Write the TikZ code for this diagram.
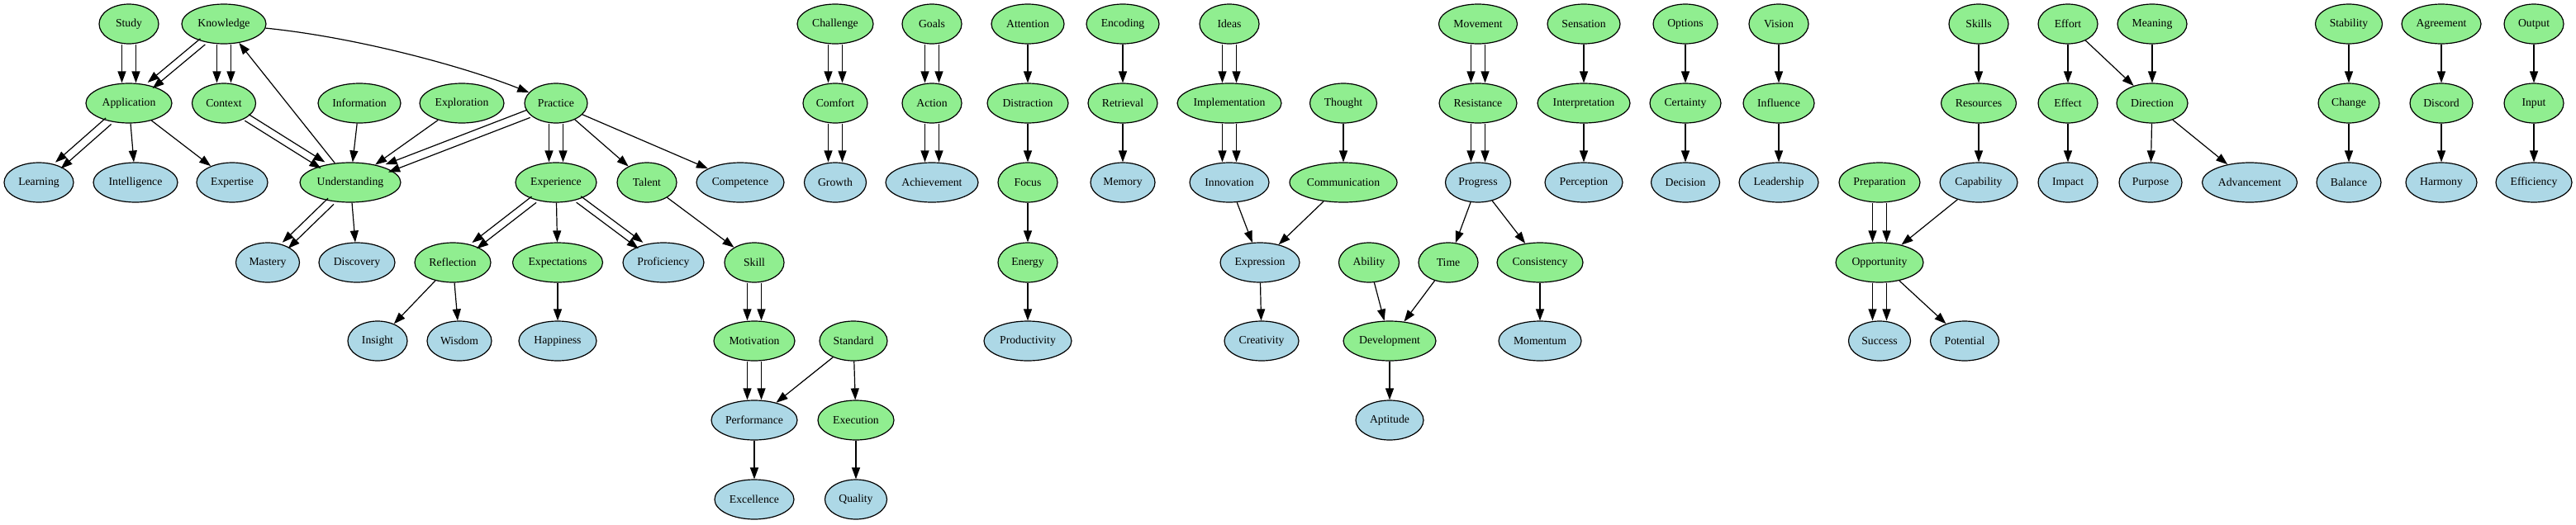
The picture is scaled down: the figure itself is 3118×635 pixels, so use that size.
\documentclass[tikz,border=0pt]{standalone}
\usepackage{fontspec}
\setmainfont{Liberation Serif}
\usetikzlibrary{shapes.geometric,arrows.meta,calc}
\definecolor{lgreen}{HTML}{90EE90}
\definecolor{lblue}{HTML}{ADD8E6}
\tikzset{
  nd/.style={ellipse, draw=black, line width=1.2pt, minimum height=48pt, inner sep=0pt,
    font=\fontsize{13.7pt}{16pt}\selectfont},
  gn/.style={nd, fill=lgreen},
  bn/.style={nd, fill=lblue},
  arr/.style={line width=1.2pt, -{Triangle[length=14pt,width=10pt]}}
}
\newcommand\twin[3][8.5pt]{%
  \draw[arr, transform canvas={shift={($(#2)!#1!90:(#3)-(#2)$)}}] (#2) -- (#3);
  \draw[arr, transform canvas={shift={($(#2)!#1!-90:(#3)-(#2)$)}}] (#2) -- (#3);
}
\newcommand\G[4]{\node[gn, minimum width=#4pt] (#1) at (#2,#3) {#1};}
\newcommand\B[4]{\node[bn, minimum width=#4pt] (#1) at (#2,#3) {#1};}
\begin{document}
\begin{tikzpicture}[x=1pt,y=-1pt]
\useasboundingbox[fill=white] (0,0) rectangle (3118,635);
% group 1
\G{Study}{156}{29}{72}
\G{Knowledge}{271}{29}{102}
\G{Application}{156}{125}{104}
\G{Context}{271}{125}{77}
\G{Information}{435}{125}{100}
\G{Exploration}{559}{125}{102}
\G{Practice}{673}{125}{76}
\B{Learning}{47}{221}{84}
\B{Intelligence}{164}{221}{102}
\B{Expertise}{281}{221}{86}
\G{Understanding}{424}{221}{122}
\G{Experience}{673}{221}{98}
\G{Talent}{783}{221}{72}
\B{Competence}{896}{221}{106}
\B{Mastery}{324}{318}{77}
\B{Discovery}{432}{318}{92}
\G{Reflection}{548}{318}{92}
\G{Expectations}{675}{318}{109}
\B{Proficiency}{803}{318}{98}
\G{Skill}{913}{318}{72}
\B{Insight}{457}{413}{72}
\B{Wisdom}{556}{413}{78}
\B{Happiness}{675}{413}{94}
\G{Motivation}{913}{413}{98}
\G{Standard}{1033}{413}{82}
\B{Performance}{913}{509}{104}
\G{Execution}{1036}{509}{92}
\B{Excellence}{913}{605}{96}
\B{Quality}{1036}{605}{75}
% group 2
\G{Challenge}{1011}{29}{92}
\G{Comfort}{1011}{125}{78}
\B{Growth}{1011}{221}{75}
\G{Goals}{1128}{29}{72}
\G{Action}{1128}{125}{72}
\B{Achievement}{1128}{221}{112}
\G{Attention}{1244}{29}{88}
\G{Distraction}{1244}{125}{98}
\G{Focus}{1244}{221}{72}
\G{Energy}{1244}{318}{72}
\B{Productivity}{1244}{413}{106}
\G{Encoding}{1359}{29}{88}
\G{Retrieval}{1359}{125}{84}
\B{Memory}{1359}{221}{78}
\G{Ideas}{1488}{29}{72}
\G{Implementation}{1488}{125}{126}
\B{Innovation}{1488}{221}{96}
\G{Thought}{1626}{125}{81}
\G{Communication}{1626}{221}{130}
\B{Expression}{1525}{318}{96}
\B{Creativity}{1527}{413}{90}
\G{Ability}{1657}{318}{73}
\G{Time}{1753}{318}{72}
\G{Development}{1682}{413}{112}
\B{Aptitude}{1682}{509}{82}
\G{Movement}{1789}{29}{95}
\G{Resistance}{1789}{125}{94}
\B{Progress}{1789}{221}{79}
\G{Consistency}{1864}{318}{104}
\B{Momentum}{1864}{413}{100}
\G{Sensation}{1917}{29}{88}
\G{Interpretation}{1917}{125}{112}
\B{Perception}{1917}{221}{94}
\G{Options}{2040}{29}{78}
\G{Certainty}{2040}{125}{86}
\B{Decision}{2040}{221}{83}
\G{Vision}{2153}{29}{72}
\G{Influence}{2153}{125}{86}
\B{Leadership}{2153}{221}{96}
\G{Preparation}{2275}{221}{98}
\G{Opportunity}{2275}{318}{106}
\B{Success}{2275}{413}{75}
\B{Potential}{2378}{413}{83}
\G{Skills}{2395}{29}{72}
\G{Resources}{2395}{125}{91}
\B{Capability}{2395}{221}{94}
\G{Effort}{2503}{29}{72}
\G{Effect}{2503}{125}{72}
\B{Impact}{2503}{221}{72}
\G{Meaning}{2605}{29}{84}
\G{Direction}{2605}{125}{86}
\B{Purpose}{2603}{221}{76}
\B{Advancement}{2723}{221}{115}
\G{Stability}{2843}{29}{81}
\G{Change}{2843}{125}{74}
\B{Balance}{2843}{221}{78}
\G{Agreement}{2955}{29}{96}
\G{Discord}{2955}{125}{76}
\B{Harmony}{2955}{221}{86}
\G{Output}{3067}{29}{72}
\G{Input}{3067}{125}{72}
\B{Efficiency}{3067}{221}{92}
% edges group 1
\twin{Study}{Application}
\twin[4.6pt]{Knowledge}{Application}
\twin{Knowledge}{Context}
\draw[arr] (Knowledge) .. controls (430,45) and (560,80) .. (Practice);
\draw[arr] (Understanding) -- (Knowledge);
\twin[5pt]{Application}{Learning}
\draw[arr] (Application) -- (Intelligence);
\draw[arr] (Application) -- (Expertise);
\twin[4.5pt]{Context}{Understanding}
\draw[arr] (Information) -- (Understanding);
\draw[arr] (Exploration) -- (Understanding);
\twin[5pt]{Practice}{Understanding}
\twin{Practice}{Experience}
\draw[arr] (Practice) -- (Talent);
\draw[arr] (Practice) -- (Competence);
\twin[5pt]{Understanding}{Mastery}
\draw[arr] (Understanding) -- (Discovery);
\twin[4.6pt]{Experience}{Reflection}
\draw[arr] (Experience) -- (Expectations);
\twin[4.6pt]{Experience}{Proficiency}
\draw[arr] (Talent) -- (Skill);
\draw[arr] (Reflection) -- (Insight);
\draw[arr] (Reflection) -- (Wisdom);
\draw[arr] (Expectations) -- (Happiness);
\twin{Skill}{Motivation}
\twin{Motivation}{Performance}
\draw[arr] (Standard) -- (Performance);
\draw[arr] (Standard) -- (Execution);
\draw[arr] (Performance) -- (Excellence);
\draw[arr] (Execution) -- (Quality);
% group 2
\twin{Challenge}{Comfort}
\twin{Comfort}{Growth}
\twin{Goals}{Action}
\twin{Action}{Achievement}
\draw[arr] (Attention) -- (Distraction);
\draw[arr] (Distraction) -- (Focus);
\draw[arr] (Focus) -- (Energy);
\draw[arr] (Energy) -- (Productivity);
\draw[arr] (Encoding) -- (Retrieval);
\draw[arr] (Retrieval) -- (Memory);
\twin{Ideas}{Implementation}
\twin{Implementation}{Innovation}
\draw[arr] (Thought) -- (Communication);
\draw[arr] (Innovation) -- (Expression);
\draw[arr] (Communication) -- (Expression);
\draw[arr] (Expression) -- (Creativity);
\draw[arr] (Ability) -- (Development);
\draw[arr] (Time) -- (Development);
\draw[arr] (Development) -- (Aptitude);
\twin{Movement}{Resistance}
\twin{Resistance}{Progress}
\draw[arr] (Progress) -- (Time);
\draw[arr] (Progress) -- (Consistency);
\draw[arr] (Consistency) -- (Momentum);
\draw[arr] (Sensation) -- (Interpretation);
\draw[arr] (Interpretation) -- (Perception);
\draw[arr] (Options) -- (Certainty);
\draw[arr] (Certainty) -- (Decision);
\draw[arr] (Vision) -- (Influence);
\draw[arr] (Influence) -- (Leadership);
\twin{Preparation}{Opportunity}
\draw[arr] (Capability) -- (Opportunity);
\twin{Opportunity}{Success}
\draw[arr] (Opportunity) -- (Potential);
\draw[arr] (Skills) -- (Resources);
\draw[arr] (Resources) -- (Capability);
\draw[arr] (Effort) -- (Effect);
\draw[arr] (Effect) -- (Impact);
\draw[arr] (Effort) -- (Direction);
\draw[arr] (Meaning) -- (Direction);
\draw[arr] (Direction) -- (Purpose);
\draw[arr] (Direction) -- (Advancement);
\draw[arr] (Stability) -- (Change);
\draw[arr] (Change) -- (Balance);
\draw[arr] (Agreement) -- (Discord);
\draw[arr] (Discord) -- (Harmony);
\draw[arr] (Output) -- (Input);
\draw[arr] (Input) -- (Efficiency);
\end{tikzpicture}
\end{document}
